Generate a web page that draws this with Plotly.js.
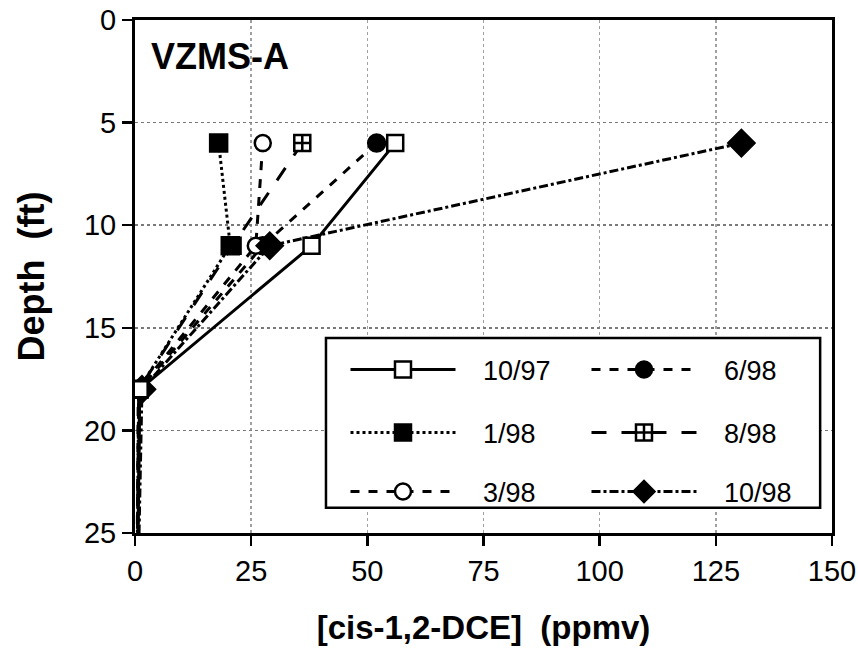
<!DOCTYPE html>
<html>
<head>
<meta charset="utf-8">
<script src="https://cdn.plot.ly/plotly-3.0.1.min.js"></script>
<style>html,body{margin:0;padding:0;background:#fff;}#chart{width:858px;height:652px;}</style>
</head>
<body>
<div id="chart"></div>
<script>
// Depth (ft) of each sampling port
const depth = [6, 11, 18, 28];
// cis-1,2-DCE concentrations (ppmv) per sampling date
const names = ["10/97", "6/98", "1/98", "8/98", "3/98", "10/98"];
const v_1097 = [56, 38, 1.0, 0.5];
const v_0698 = [52, 27.5, 1.0, 0.5];
const v_0198 = [18, 20.5, 0.8, 0.4];
const v_0898 = [36, 21, 0.8, 0.4];
const v_0398 = [27.5, 26, 0.7, 0.4];
const v_1098 = [130.5, 29, 1.5, 0.6];
const xTicks = [0, 25, 50, 75, 100, 125, 150];
const yTicks = [0, 5, 10, 15, 20, 25];

const FONT = "Liberation Sans, Arial, sans-serif";
const PAD = "\u00a0\u00a0\u00a0";
// drawing order (bottom to top); legendrank keeps the legend order
const series = [
  {name: names[1], x: v_0698, dash: "dash",    symbol: "circle",       fill: "#000000", size: 17, legend: "legend",  rank: 2},
  {name: names[3], x: v_0898, dash: "longdash",symbol: "square-cross", fill: "#ffffff", size: 16, legend: "legend2", rank: 2},
  {name: names[2], x: v_0198, dash: "dot",     symbol: "square",       fill: "#000000", size: 17, legend: "legend2", rank: 1},
  {name: names[4], x: v_0398, dash: "dash",    symbol: "circle",       fill: "#ffffff", size: 16, legend: "legend3", rank: 1},
  {name: names[5], x: v_1098, dash: "dashdot", symbol: "diamond",      fill: "#000000", size: 20, legend: "legend3", rank: 2},
  {name: names[0], x: v_1097, dash: "solid",   symbol: "square",       fill: "#ffffff", size: 16, legend: "legend",  rank: 1}
];

const traces = series.map(s => ({
  type: "scatter", mode: "lines+markers", name: PAD + s.name, legend: s.legend, legendrank: s.rank,
  x: s.x, y: depth, cliponaxis: true,
  line: {color: "#000", width: 3, dash: s.dash},
  marker: {symbol: s.symbol, size: s.size, color: s.fill, line: {color: "#000", width: 2.5}}
}));

const legBase = {
  orientation: "h", xanchor: "left", yanchor: "middle", x: 0.302,
  bgcolor: "rgba(0,0,0,0)", borderwidth: 0, itemwidth: 105,
  entrywidth: 121, entrywidthmode: "pixels",
  font: {family: FONT, size: 27, color: "#000"}, itemclick: false
};

const layout = {
  width: 858, height: 652,
  margin: {l: 135, r: 26, t: 20, b: 119},
  paper_bgcolor: "#fff", plot_bgcolor: "#fff",
  font: {family: FONT, color: "#000"},
  xaxis: {
    range: [0, 150], tickvals: xTicks, ticktext: xTicks.map(String),
    ticks: "outside", ticklen: 10, tickwidth: 2.5, tickcolor: "#000",
    showline: true, linewidth: 3, linecolor: "#000", mirror: true,
    showgrid: true, gridcolor: "#a0a0a0", griddash: "dot", gridwidth: 1.5,
    zeroline: false, tickfont: {family: FONT, size: 29, color: "#000"},
    title: {text: "<b>[cis-1,2-DCE]  (ppmv)</b>", font: {family: FONT, size: 33, color: "#000"}, standoff: 31}
  },
  yaxis: {
    range: [25, 0], tickvals: yTicks, ticktext: yTicks.map(String),
    ticks: "outside", ticklen: 10, tickwidth: 2.5, tickcolor: "#000",
    showline: true, linewidth: 3, linecolor: "#000", mirror: true,
    showgrid: true, gridcolor: "#7a7a7a", griddash: "dot", gridwidth: 1.5,
    zeroline: false, tickfont: {family: FONT, size: 29, color: "#000"},
    title: {text: "<b>Depth  (ft)</b>", font: {family: FONT, size: 36, color: "#000"}, standoff: 29}
  },
  legend: Object.assign({}, legBase, {y: 0.318}),
  legend2: Object.assign({}, legBase, {y: 0.195}),
  legend3: Object.assign({}, legBase, {y: 0.080}),
  shapes: [{
    type: "rect", xref: "paper", yref: "paper", x0: 0.274, x1: 0.983, y0: 0.049, y1: 0.38,
    line: {color: "#000", width: 2.5}, fillcolor: "#fff", layer: "above"
  }],
  annotations: [{
    text: "<b>VZMS-A</b>", xref: "paper", yref: "paper", x: 0.02, y: 0.928,
    xanchor: "left", yanchor: "middle", showarrow: false,
    font: {family: FONT, size: 36, color: "#000"}
  }]
};

Plotly.newPlot("chart", traces, layout, {displayModeBar: false, staticPlot: true});
</script>
</body>
</html>
